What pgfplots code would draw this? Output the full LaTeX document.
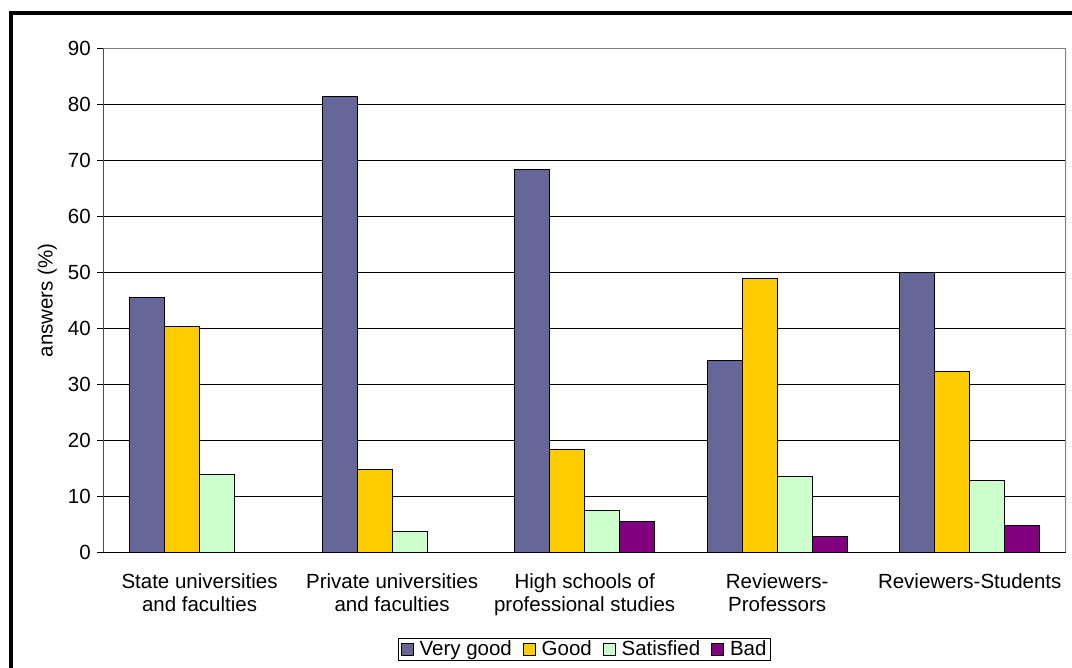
\documentclass[border=0pt]{standalone}
\usepackage{fontspec}
\setmainfont{Liberation Sans}
\usepackage{pgfplots}
\pgfplotsset{compat=1.18}

\definecolor{vgood}{HTML}{666699}
\definecolor{good}{HTML}{FFCC00}
\definecolor{sat}{HTML}{CCFFCC}
\definecolor{bad}{HTML}{800080}
\definecolor{framegray}{HTML}{808080}

\newcommand{\chartfont}{\fontsize{20.5bp}{22.5bp}\selectfont}

\begin{document}
\begin{tikzpicture}[x=1bp,y=1bp]
  \useasboundingbox (0,0) rectangle (1072,-668);
  % outer chart frame
  \draw[line width=4bp] (10.5,-668) -- (10.5,-13.5) -- (1072,-13.5);
  \begin{axis}[
    at={(103.3bp,-552.3bp)}, anchor=south west,
    width=962.7bp, height=504bp, scale only axis,
    xmin=-0.5, xmax=4.5, ymin=0, ymax=90,
    axis lines=left,
    axis line style={-, line width=1bp},
    x axis line style={black},
    y axis line style={black!70},
    ybar=0pt, bar width=35bp,
    ytick={0,10,...,90},
    xtick={0,1,2,3,4},
    xtick style={draw=none},
    minor xtick={-0.5,0.5,1.5,2.5,3.5,4.5},
    minor tick length=6bp,
    major tick length=6bp,
    tick align=outside,
    tick style={black, line width=1bp},
    ymajorgrids,
    major grid style={black, line width=1bp},
    /pgf/number format/assume math mode=true,
    tick label style={font=\chartfont},
    yticklabel style={anchor=east, xshift=-3bp},
    xticklabel style={align=center, anchor=north, yshift=-12bp},
    xticklabels={{State universities\\and faculties},
                 {Private universities\\and faculties},
                 {High schools of\\professional studies},
                 {Reviewers-\\Professors},
                 {Reviewers-Students}},
    ylabel={answers (\%)},
    ylabel style={at={(axis description cs:0,0.5)}, anchor=center,
                  yshift=56bp, font=\chartfont},
    legend columns=4,
    legend style={at={(axis description cs:0.5,0)}, anchor=center,
                  yshift=-97bp, draw=black, line width=1bp,
                  font=\chartfont,
                  inner xsep=2bp, inner ysep=1bp,
                  nodes={inner xsep=2bp},
                  /tikz/every odd column/.append style={column sep=4bp},
                  /tikz/every even column/.append style={column sep=9bp}},
    legend image code/.code={\draw[#1, line width=0.8bp]
        (0bp,-6bp) rectangle (12bp,6bp);},
  ]
    \addplot[fill=vgood, draw=black, line width=1bp]
      coordinates {(0,45.5) (1,81.4) (2,68.4) (3,34.3) (4,49.9)};
    \addplot[fill=good, draw=black, line width=1bp]
      coordinates {(0,40.4) (1,14.8) (2,18.4) (3,48.9) (4,32.2)};
    \addplot[fill=sat, draw=black, line width=1bp]
      coordinates {(0,13.9) (1,3.7) (2,7.4) (3,13.6) (4,12.9)};
    \addplot[fill=bad, draw=black, line width=1bp]
      coordinates {(2,5.5) (3,2.9) (4,4.8)};
    \legend{Very good, Good, Satisfied, Bad}
    % plot area frame on top and right
    \draw[framegray, line width=1.2bp]
      (rel axis cs:0,1) -- (rel axis cs:1,1) -- (rel axis cs:1,0);
  \end{axis}
\end{tikzpicture}
\end{document}
